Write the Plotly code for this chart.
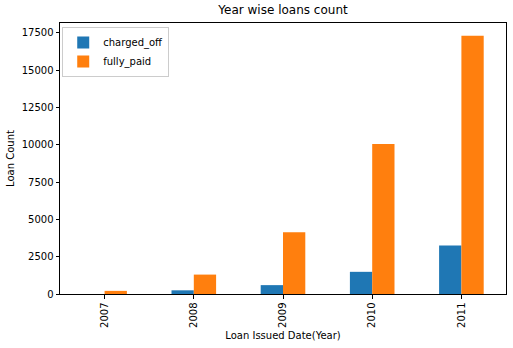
import plotly.graph_objects as go

years = ["2007", "2008", "2009", "2010", "2011"]
charged_off = [0, 247, 594, 1485, 3256]
fully_paid = [210, 1300, 4130, 10050, 17300]
y_ticks = [0, 2500, 5000, 7500, 10000, 12500, 15000, 17500]

fig = go.Figure()
fig.add_trace(go.Bar(x=years, y=charged_off, name="charged_off", marker=dict(color="#1f77b4", line=dict(width=0))))
fig.add_trace(go.Bar(x=years, y=fully_paid, name="fully_paid", marker=dict(color="#ff7f0e", line=dict(width=0))))

fig.update_layout(
    width=513, height=348,
    margin=dict(l=60, r=7, t=23, b=54),
    paper_bgcolor="white", plot_bgcolor="white",
    font=dict(family="DejaVu Sans", size=10, color="#000000"),
    barmode="group", bargap=0.5, bargroupgap=0,
    title=dict(text="Year wise loans count", x=0.5, xref="paper", xanchor="center",
               y=1, yref="container", yanchor="top", pad=dict(t=6),
               font=dict(size=12, color="#000000")),
    legend=dict(x=0.005, y=0.985, xanchor="left", yanchor="top",
                bgcolor="rgba(255,255,255,0.8)", bordercolor="#cccccc", borderwidth=1,
                font=dict(size=10), traceorder="normal", itemwidth=30,
                tracegroupgap=0),
    showlegend=True,
)
fig.update_xaxes(
    type="category", range=[-0.5, 4.5], tickangle=-90,
    showline=True, linecolor="#000000", linewidth=1, mirror=True,
    ticks="outside", ticklen=3.5, tickcolor="#000000",
    showgrid=False, zeroline=False,
    title=dict(text="Loan Issued Date(Year)", standoff=5, font=dict(size=10)),
)
fig.update_yaxes(
    range=[0, 18150], tickvals=y_ticks, ticktext=[str(v) for v in y_ticks],
    showline=True, linecolor="#000000", linewidth=1, mirror=True,
    ticks="outside", ticklen=3.5, tickcolor="#000000",
    showgrid=False, zeroline=False,
    title=dict(text="Loan Count", standoff=5, font=dict(size=10)),
)

fig.write_html("out.html")
